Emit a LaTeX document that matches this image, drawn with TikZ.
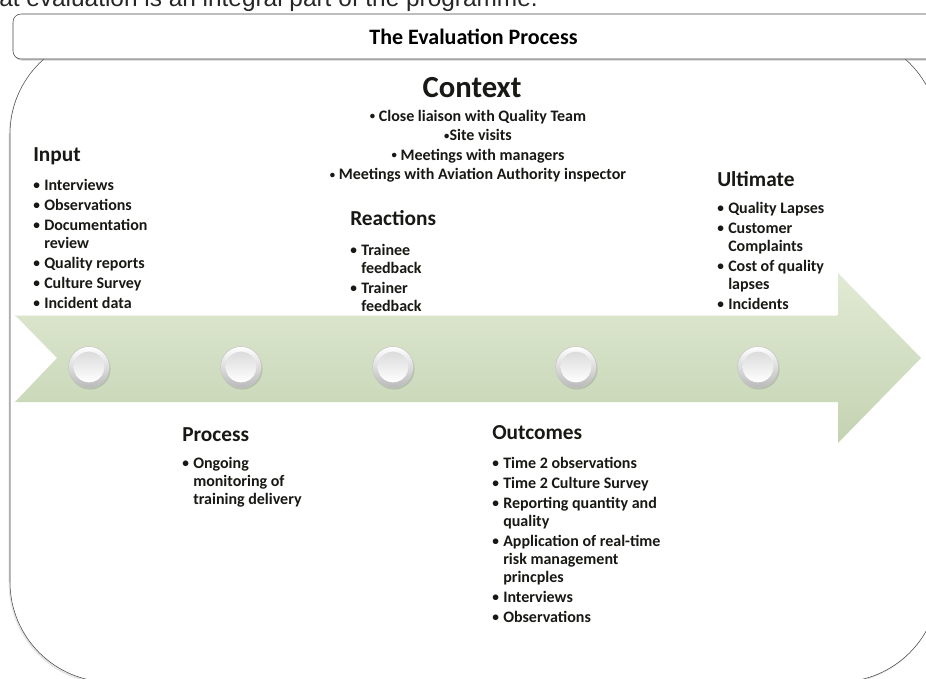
\documentclass[tikz,border=0pt]{standalone}
\usepackage{fontspec}
\setmainfont{Carlito}
\newfontfamily\docfont{Liberation Sans}
\usepackage{xcolor}
\definecolor{evframe}{RGB}{70,70,70}
\definecolor{evgreenhi}{RGB}{225,234,212}
\definecolor{evgreenlo}{RGB}{196,211,178}
\definecolor{evtext}{RGB}{24,24,20}
\usepackage{tikz}
\usetikzlibrary{shadows, calc}
\newcommand{\bul}{\makebox[8.25pt][l]{\raisebox{0.4pt}{\fontsize{10}{10}\selectfont•}}}
\newcommand{\ind}{\hspace*{8.25pt}}
\newcommand{\cbul}{\raisebox{1.2pt}{\fontsize{8}{8}\selectfont•}}
\newcommand{\topstrut}{\rule{0pt}{10pt}}
\tikzset{
  heading/.style={anchor=base west, inner sep=0pt, text=evtext,
    font=\fontsize{16}{18}\selectfont\bfseries},
  itemlist/.style={anchor=north west, yshift=10pt, inner sep=0pt, align=left,
    text=evtext, font=\fontsize{12}{13.5}\selectfont\bfseries},
  stagering/.style={circle, inner sep=0pt, minimum size=30.75pt, draw=gray!45,
    top color=white, bottom color=gray!55,
    drop shadow={opacity=0.3, shadow xshift=0.8pt, shadow yshift=-1.5pt}},
  stagecore/.style={circle, inner sep=0pt, minimum size=23pt,
    top color=gray!28, bottom color=white}
}

\begin{document}
\begin{tikzpicture}[x=0.75pt, y=-0.75pt]
  \useasboundingbox (0,0) rectangle (926,679);
  \clip (0,0) rectangle (926,679);
  % document line above the figure
  \node[anchor=base east, inner sep=0pt, text=black!85,
        font=\docfont\fontsize{18.3}{20}\selectfont] (docline) at (538,6)
       {at evaluation is an integral part of the programme.};
  % big rounded frame
  \draw[evframe, fill=white, rounded corners=75pt,
        drop shadow={opacity=0.2, shadow xshift=-1pt, shadow yshift=-1.5pt}]
       (10,34) rectangle (939,682);
  % title bar
  \draw[evframe, fill=white, rounded corners=6pt,
        drop shadow={opacity=0.35, shadow xshift=0.6pt, shadow yshift=-1.2pt}]
       (13,14) rectangle (935,59);
  \node[font=\fontsize{16.5}{18}\selectfont\bfseries, text=black] (title) at (473.5,37)
       {The Evaluation Process};
  % green arrow
  \shade[top color=evgreenhi, bottom color=evgreenlo]
       (15,315) -- (838,315) -- (838,273) -- (921,358) -- (838,443)
       -- (838,402) -- (15,402) -- (57,358) -- cycle;
  \draw[white, opacity=0.6] (16,315.5) -- (837,315.5);
  % stages on the arrow
  \foreach \cx [count=\i] in {89,241,393,576,758}{
    \node[stagering] (st\i) at (\cx,367) {};
    \node[stagecore] (cr\i) at (st\i) {};
  }
  % Context
  \node[anchor=base, inner sep=0pt, text=evtext,
        font=\fontsize{23}{26}\selectfont\bfseries] (context) at (472,97) {Context};
  \node[anchor=north, yshift=10pt, inner sep=0pt, align=center, text=evtext,
        font=\fontsize{12}{14.6}\selectfont\bfseries] (ctxlist) at (478,121)
       {\topstrut\cbul{} Close liaison with Quality Team\\
        \cbul Site visits\\
        \cbul{} Meetings with managers\\
        \cbul{} Meetings with Aviation Authority inspector};
  % Input
  \node[heading] (input) at (33,161) {Input};
  \node[itemlist] (inlist) at (33,190)
       {\topstrut\bul Interviews\\[1.5pt]
        \bul Observations\\[1.5pt]
        \bul Documentation\\
        \ind review\\[1.5pt]
        \bul Quality reports\\[1.5pt]
        \bul Culture Survey\\[1.5pt]
        \bul Incident data};
  % Reactions
  \node[heading] (reactions) at (350,225) {Reactions};
  \node[itemlist] (reaclist) at (350,255)
       {\topstrut\bul Trainee\\
        \ind feedback\\[1.5pt]
        \bul Trainer\\
        \ind feedback};
  % Ultimate
  \node[heading] (ultimate) at (717,186) {Ultimate};
  \node[itemlist] (ultlist) at (717,213)
       {\topstrut\bul Quality Lapses\\[1.5pt]
        \bul Customer\\
        \ind Complaints\\[1.5pt]
        \bul Cost of quality\\
        \ind lapses\\[1.5pt]
        \bul Incidents};
  % Process
  \node[heading] (process) at (182,441) {Process};
  \node[itemlist] (proclist) at (182,468)
       {\topstrut\bul Ongoing\\
        \ind monitoring of\\
        \ind training delivery};
  % Outcomes
  \node[heading] (outcomes) at (492,439) {Outcomes};
  \node[itemlist] (outlist) at (492,468)
       {\topstrut\bul Time 2 observations\\[1.5pt]
        \bul Time 2 Culture Survey\\[1.5pt]
        \bul Reporting quantity and\\
        \ind quality\\[1.5pt]
        \bul Application of real-time\\
        \ind risk management\\
        \ind princples\\[1.5pt]
        \bul Interviews\\[1.5pt]
        \bul Observations};
\end{tikzpicture}
\end{document}
